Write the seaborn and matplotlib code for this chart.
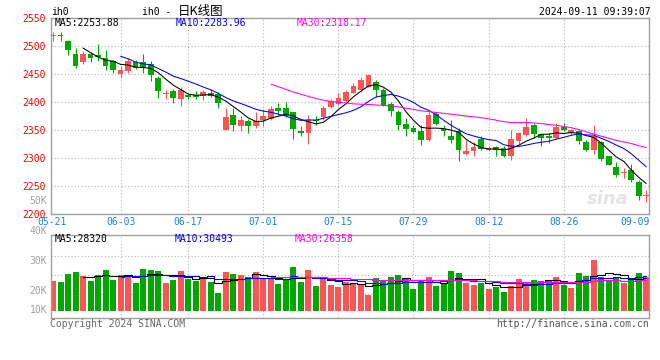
import numpy as np
import pandas as pd
import matplotlib
matplotlib.use("Agg")
import matplotlib.pyplot as plt
import seaborn as sns

# ---- data (ih0 daily K line, 05-21 .. 09-10) ----
opens = [2518, 2521, 2510, 2486, 2471, 2486, 2484, 2479, 2473, 2451,
         2455, 2471, 2471, 2468, 2443, 2414, 2420, 2405, 2412, 2412,
         2411, 2417, 2414, 2351, 2377, 2357, 2366, 2357, 2369, 2370,
         2389, 2390, 2382, 2349, 2344, 2368, 2374, 2392, 2396, 2402,
         2417, 2422, 2428, 2436, 2422, 2397, 2383, 2361, 2354, 2348,
         2332, 2379, 2352, 2340, 2349, 2308, 2312, 2335, 2314, 2320,
         2318, 2303, 2330, 2341, 2360, 2343, 2339, 2336, 2356, 2345,
         2349, 2328, 2314, 2328, 2303, 2284, 2274, 2279, 2257, 2232]
highs = [2526, 2526, 2511, 2497, 2491, 2490, 2504, 2493, 2476, 2464,
         2479, 2476, 2486, 2473, 2446, 2422, 2423, 2427, 2415, 2420,
         2421, 2423, 2418, 2390, 2389, 2376, 2370, 2382, 2388, 2394,
         2399, 2401, 2382, 2357, 2377, 2376, 2393, 2406, 2416, 2422,
         2434, 2445, 2449, 2440, 2425, 2401, 2386, 2371, 2360, 2360,
         2383, 2382, 2359, 2368, 2354, 2333, 2328, 2340, 2322, 2322,
         2321, 2350, 2346, 2371, 2363, 2345, 2345, 2362, 2363, 2352,
         2351, 2332, 2360, 2330, 2304, 2293, 2282, 2290, 2261, 2243]
lows = [2509, 2510, 2485, 2462, 2469, 2471, 2473, 2457, 2453, 2443,
        2452, 2460, 2453, 2437, 2408, 2406, 2398, 2394, 2405, 2405,
        2404, 2410, 2389, 2350, 2349, 2349, 2344, 2354, 2357, 2368,
        2377, 2373, 2335, 2339, 2326, 2360, 2368, 2390, 2395, 2401,
        2416, 2419, 2427, 2410, 2394, 2376, 2351, 2340, 2345, 2323,
        2331, 2360, 2340, 2327, 2294, 2306, 2304, 2315, 2312, 2303,
        2302, 2296, 2325, 2339, 2336, 2321, 2327, 2335, 2348, 2342,
        2326, 2313, 2308, 2294, 2287, 2266, 2264, 2258, 2225, 2222]
closes = [2520, 2519, 2494, 2464, 2487, 2479, 2480, 2464, 2457, 2458,
          2473, 2461, 2461, 2449, 2420, 2416, 2407, 2421, 2409, 2409,
          2418, 2411, 2398, 2374, 2360, 2369, 2358, 2367, 2376, 2388,
          2385, 2376, 2352, 2344, 2368, 2366, 2390, 2402, 2408, 2419,
          2429, 2440, 2448, 2422, 2395, 2385, 2360, 2352, 2346, 2332,
          2377, 2361, 2348, 2332, 2314, 2313, 2320, 2316, 2318, 2315,
          2303, 2334, 2344, 2355, 2343, 2336, 2336, 2355, 2350, 2351,
          2330, 2315, 2339, 2299, 2288, 2269, 2276, 2261, 2233, 2234]
# volume, in thousands on the chart's own label scale
volumes = [23.2, 22.9, 25.7, 26.2, 24.9, 23.2, 25.2, 26.9, 23.6, 25.2,
           25.2, 22.6, 27.2, 26.9, 26.6, 22.6, 23.6, 26.6, 23.9, 23.2,
           23.9, 22.9, 19.2, 26.2, 25.6, 25.2, 24.6, 26.2, 23.9, 23.9,
           22.2, 23.6, 27.9, 22.9, 26.9, 21.6, 23.9, 21.9, 21.2, 22.9,
           22.2, 22.2, 18.6, 24.2, 23.2, 24.6, 25.2, 23.9, 20.6, 23.2,
           24.6, 21.6, 22.6, 26.6, 25.9, 22.6, 21.9, 22.6, 20.6, 21.2,
           19.6, 21.6, 23.9, 22.9, 23.6, 23.2, 23.6, 24.6, 21.9, 20.9,
           25.9, 24.9, 30.2, 24.6, 23.6, 24.6, 22.6, 23.6, 25.9, 24.6]
date_ticks = [0, 9, 18, 28, 38, 48, 58, 68, 78]
date_labels = ["05-21", "06-03", "06-17", "07-01", "07-15",
               "07-29", "08-12", "08-26", "09-09"]
price_ticks = [2200, 2250, 2300, 2350, 2400, 2450, 2500, 2550]
vol_labels = ["50K", "40K", "30K", "20K", "10K"]
vol_label_vals = [50, 40, 30, 20, 13.6]

# ---- style ----
RED = "#fa5555"
GREEN = "#00a800"
GRID = "#b4b4b4"
SPINE = "#a0a0a0"
MONO = ["DejaVu Sans Mono", "Noto Sans CJK SC"]

sns.set_style("white")
plt.rcParams["font.family"] = MONO

df = pd.DataFrame({"open": opens, "high": highs, "low": lows,
                   "close": closes, "vol": volumes})
df["idx"] = np.arange(len(df))
df["up"] = df["close"] >= df["open"]
df["color"] = np.where(df["up"], RED, GREEN)
for n in (5, 10, 30):
    df[f"ma{n}"] = df["close"].rolling(n).mean()
    df[f"vma{n}"] = df["vol"].rolling(n).mean()

W, H = 660, 360
fig = plt.figure(figsize=(W / 100, H / 100), dpi=100)


def fx(x):
    return x / W


def fy(y):
    return 1 - y / H


XLIM = (-0.31, 79.4)
ax1 = fig.add_axes([fx(50.7), fy(214), fx(649.3) - fx(50.7), fy(18.3) - fy(214)])
ax2 = fig.add_axes([fx(50.7), fy(318), fx(649.3) - fx(50.7), fy(234.7) - fy(318)])

for ax in (ax1, ax2):
    ax.set_xlim(*XLIM)
    for s in ax.spines.values():
        s.set_color(SPINE)
        s.set_linewidth(1.0)
    for t in date_ticks[1:-1]:
        ax.axvline(t, color=GRID, lw=0.8, ls=(0, (1, 2)), zorder=0)
    ax.set_xticks([])

# ---- price panel ----
ax1.set_ylim(2200, 2550)
for p in price_ticks[1:-1]:
    ax1.axhline(p, color=GRID, lw=0.8, ls=(0, (1, 2)), zorder=0)
ax1.set_yticks(price_ticks)
ax1.set_yticklabels([str(p) for p in price_ticks])
ax1.tick_params(axis="y", length=0, pad=3.2, colors="red", labelsize=7)

body_lo = df[["open", "close"]].min(axis=1)
body_h = (df["close"] - df["open"]).abs().clip(lower=1.6)
ax1.vlines(df["idx"], df["low"], df["high"], colors=df["color"], lw=0.75, zorder=2)
ax1.bar(df["idx"], body_h, bottom=body_lo, width=0.76, color=df["color"],
        linewidth=0, zorder=3)

for col, c in (("ma5", "black"), ("ma10", "#0000ff"), ("ma30", "#ff00ff")):
    sns.lineplot(x=df["idx"], y=df[col], ax=ax1, color=c, lw=0.75, zorder=4)
ax1.set_xlabel("")
ax1.set_ylabel("")

for t, lab in zip(date_ticks, date_labels):
    ha = "center"
    x = t
    if t == date_ticks[0]:
        x = XLIM[0] + 0.2
    if t == date_ticks[-1]:
        x, ha = XLIM[1], "right"
    ax1.text(x, -0.043, lab, transform=ax1.get_xaxis_transform(), ha=ha,
             va="center", color="#1a80d4", fontsize=7)

ax1.text(0.93, 0.075, "sina", transform=ax1.transAxes, ha="center",
         va="center", fontsize=13, fontstyle="italic", fontweight="bold",
         color="#e4e4e4", family="DejaVu Sans", zorder=1)

# ---- volume panel ----
VOL_FLOOR = 13.23
ax2.set_ylim(10.9, 38.67)
for g in (18.8, 25.2, 31.7):
    ax2.axhline(g, color=GRID, lw=0.8, ls=(0, (1, 2)), zorder=0)
ax2.bar(df["idx"], df["vol"] - VOL_FLOOR, bottom=VOL_FLOOR, width=0.8,
        color=df["color"], linewidth=0, zorder=2)
for col, c in (("vma5", "black"), ("vma10", "#0000ff"), ("vma30", "#ff00ff")):
    sns.lineplot(x=df["idx"], y=df[col], ax=ax2, color=c, lw=0.8,
                 drawstyle="steps-mid", zorder=4)
ax2.set_yticks([])
ax2.set_xlabel("")
ax2.set_ylabel("")
for lab, v in zip(vol_labels, vol_label_vals):
    ax2.text(-0.006, v, lab, transform=ax2.get_yaxis_transform(), ha="right",
             va="center", color="#a0a0a0", fontsize=7, clip_on=False)

# ---- header / footer texts ----
fig.text(fx(51), fy(12), "ih0", fontsize=7, va="center", color="black")
fig.text(fx(142), fy(12), "ih0 - ", fontsize=7, va="center", color="black")
fig.text(fx(178), fy(12), "日K线图", fontsize=9, va="center", color="black",
         family=["Noto Sans CJK SC", "DejaVu Sans"])
fig.text(fx(651), fy(12), "2024-09-11 09:39:07", fontsize=7, va="center",
         ha="right", color="black")

fig.text(fx(55), fy(23), "MA5:2253.88", fontsize=7, va="center", color="black")
fig.text(fx(176), fy(23), "MA10:2283.96", fontsize=7, va="center", color="#0000ff")
fig.text(fx(297), fy(23), "MA30:2318.17", fontsize=7, va="center", color="#ff00ff")

fig.text(fx(55), fy(239.5), "MA5:28320", fontsize=7, va="center", color="black")
fig.text(fx(175), fy(239.5), "MA10:30493", fontsize=7, va="center", color="#0000ff")
fig.text(fx(295), fy(239.5), "MA30:26358", fontsize=7, va="center", color="#ff00ff")

fig.text(fx(50), fy(324), "Copyright 2024 SINA.COM", fontsize=7, va="center",
         color="#666666")
fig.text(fx(649), fy(324), "http://finance.sina.com.cn", fontsize=7,
         va="center", ha="right", color="#555555")

fig.savefig("out.png", dpi=100, facecolor="white")
